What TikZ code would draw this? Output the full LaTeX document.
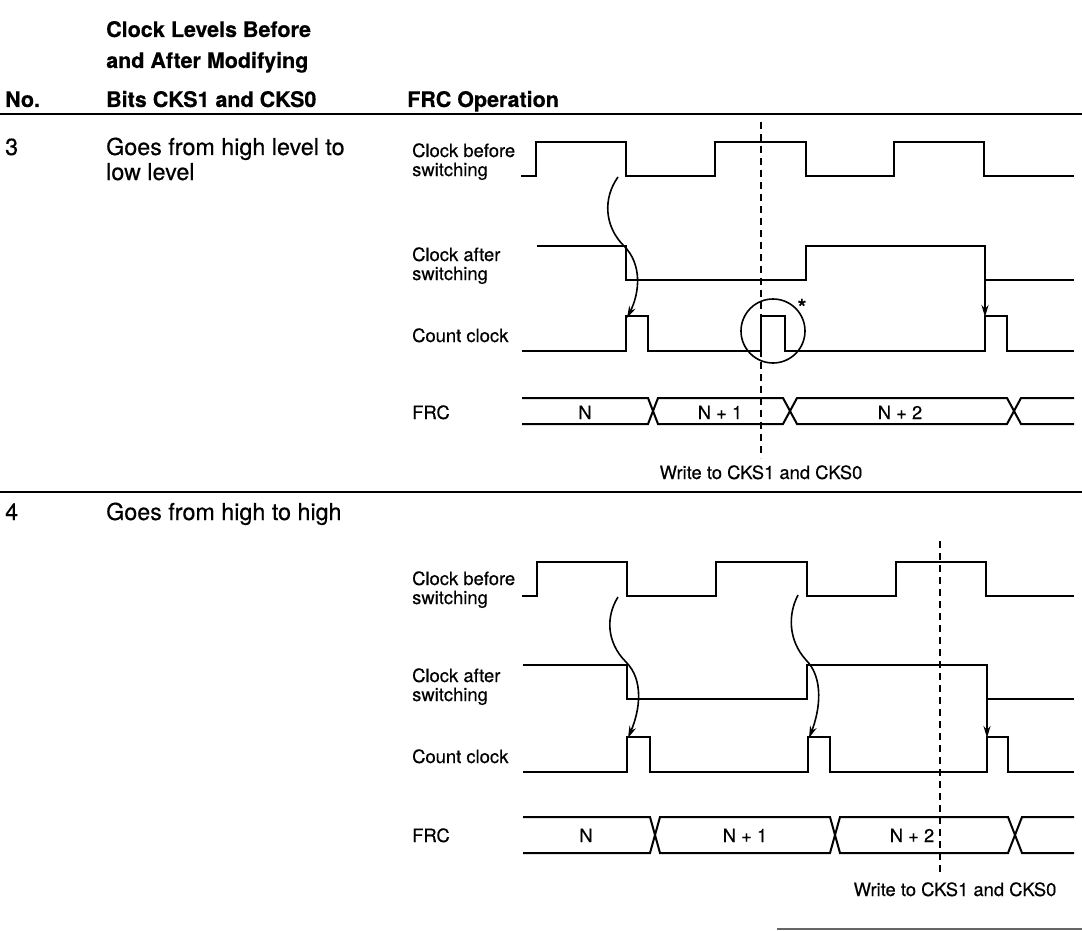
\documentclass[tikz,border=0pt]{standalone}
\usepackage{fontspec}
\setmainfont{TeX Gyre Heros}[FakeBold=0.35]
\usetikzlibrary{arrows.meta}
\newcommand\hdrfont{\fontsize{21.5}{25}\bfseries\selectfont}
\newcommand\rowfont{\fontsize{23.3}{27}\selectfont}
\newcommand\lblfont{\fontsize{18.4}{22}\selectfont}
\begin{document}
\begin{tikzpicture}[x=1pt,y=-1pt,
  hdr/.style={font=\hdrfont, inner sep=0pt, anchor=base west},
  rowtxt/.style={font=\rowfont, inner sep=0pt, anchor=base west},
  lbl/.style={font=\lblfont, inner sep=0pt, anchor=base west},
  val/.style={font=\lblfont, inner sep=0pt, anchor=base},
  rule/.style={line width=2pt},
  wave/.style={line width=2.3pt, line join=miter, line cap=butt},
  bus/.style={line width=2pt},
  curvearrow/.style={line width=1.6pt, -{Stealth[length=12pt,width=7pt]}},
  vertarrow/.style={line width=2pt, -{Stealth[length=12pt,width=7pt]}},
  writeline/.style={line width=2pt, dash pattern=on 7pt off 5pt},
  ring/.style={line width=1.6pt}]
\useasboundingbox (0,0) rectangle (1082,931);
\fill[white] (0,0) rectangle (1082,931);

% ---------- header ----------
\node[hdr] (hno) at (5,107) {No.};
\node[hdr] (h1) at (106,37) {Clock Levels Before};
\node[hdr] (h2) at (106,68) {and After Modifying};
\node[hdr] (h3) at (106,107) {Bits CKS1 and CKS0};
\node[hdr] (h4) at (407,107) {FRC Operation};
\coordinate (r1a) at (0,114); \coordinate (r1b) at (1082,114);
\draw[rule] (r1a) -- (r1b);

% ---------- row 3 ----------
\node[rowtxt] (n3) at (5,155) {3};
\node[rowtxt] (t3a) at (106,155) {Goes from high level to};
\node[rowtxt] (t3b) at (106,180) {low level};

\node[lbl] (a1) at (412,157) {Clock before};
\node[lbl] (a2) at (412,176) {switching};
\node[lbl] (a3) at (412,261) {Clock after};
\node[lbl] (a4) at (412,280) {switching};
\node[lbl] (a5) at (412,342) {Count clock};
\node[lbl] (a6) at (412,419) {FRC};

% clock before switching
\draw[wave] (521,176) -- (536,176) -- (536,142) -- (626,142) -- (626,176)
  -- (715,176) -- (715,142) -- (806,142) -- (806,176) -- (894,176)
  -- (894,142) -- (984,142) -- (984,176) -- (1074,176);
% clock after switching
\draw[wave] (537,246) -- (626,246) -- (626,280) -- (806,280) -- (806,246)
  -- (985,246) -- (985,280) -- (1074,280);
% count clock
\draw[wave] (522,351) -- (626,351) -- (626,316) -- (648,316) -- (648,351)
  -- (761,351) -- (761,316) -- (785,316) -- (785,351)
  -- (985,351) -- (985,316) -- (1007,316) -- (1007,351) -- (1074,351);
% FRC bus
\draw[bus] (522,398) -- (648,398) -- (658,424) -- (783,424) -- (797,398) -- (1007,398) -- (1021,424) -- (1074,424);
\draw[bus] (522,424) -- (648,424) -- (658,398) -- (783,398) -- (797,424) -- (1007,424) -- (1021,398) -- (1074,398);
\node[val] (v1) at (585,419) {N};
\node[val] (v2) at (720,419) {N + 1};
\node[val] (v3) at (900,419) {N + 2};

% arrows
\coordinate (c1s) at (618,177);
\coordinate (c1e) at (627,318);
\draw[curvearrow] (c1s) .. controls (603,198) and (604,226) .. (624,246)
  .. controls (642,264) and (640,292) .. (c1e);
\coordinate (s1s) at (985,279);
\coordinate (s1e) at (985,317);
\draw[vertarrow] (s1s) -- (s1e);

% circle and asterisk
\draw[ring] (773,331) circle[radius=32];
\node[font=\fontsize{22}{22}\bfseries\selectfont, inner sep=0pt] (ast) at (802,307) {*};

% write line
\coordinate (w1t) at (761,122);
\coordinate (w1b) at (761,458);
\draw[writeline] (w1t) -- (w1b);
\node[val] (wt1) at (761,479) {Write to CKS1 and CKS0};

\coordinate (r2a) at (0,492); \coordinate (r2b) at (1082,492);
\draw[rule] (r2a) -- (r2b);

% ---------- row 4 ----------
\node[rowtxt] (n4) at (5,520) {4};
\node[rowtxt] (t4a) at (106,520) {Goes from high to high};

\node[lbl] (b1) at (412,585) {Clock before};
\node[lbl] (b2) at (412,604) {switching};
\node[lbl] (b3) at (412,682) {Clock after};
\node[lbl] (b4) at (412,701) {switching};
\node[lbl] (b5) at (412,763) {Count clock};
\node[lbl] (b6) at (412,842) {FRC};

% clock before switching
\draw[wave] (522,596) -- (537,596) -- (537,562) -- (627,562) -- (627,596)
  -- (716,596) -- (716,562) -- (807,562) -- (807,596) -- (896,596)
  -- (896,562) -- (986,562) -- (986,596) -- (1074,596);
% clock after switching
\draw[wave] (523,665) -- (627,665) -- (627,699) -- (807,699) -- (807,665)
  -- (987,665) -- (987,699) -- (1074,699);
% count clock
\draw[wave] (523,772) -- (627,772) -- (627,737) -- (650,737) -- (650,772)
  -- (808,772) -- (808,737) -- (830,737) -- (830,772)
  -- (987,772) -- (987,737) -- (1008,737) -- (1008,772) -- (1074,772);
% FRC bus
\draw[bus] (523,817) -- (650,817) -- (660,853) -- (830,853) -- (840,817) -- (1008,817) -- (1022,853) -- (1074,853);
\draw[bus] (523,853) -- (650,853) -- (660,817) -- (830,817) -- (840,853) -- (1008,853) -- (1022,817) -- (1074,817);
\node[val] (u1) at (586,842) {N};
\node[val] (u2) at (745,842) {N + 1};
\node[val] (u3) at (912,842) {N + 2};

% arrows
\coordinate (c2s) at (618,597);
\coordinate (c2e) at (628,738);
\draw[curvearrow] (c2s) .. controls (606,616) and (606,642) .. (626,662)
  .. controls (644,680) and (640,710) .. (c2e);
\coordinate (c3s) at (798,595);
\coordinate (c3e) at (809,738);
\draw[curvearrow] (c3s) .. controls (788,614) and (788,640) .. (806,660)
  .. controls (824,678) and (820,710) .. (c3e);
\coordinate (s2s) at (987,698);
\coordinate (s2e) at (987,738);
\draw[vertarrow] (s2s) -- (s2e);

% write line
\coordinate (w2t) at (940,541);
\coordinate (w2b) at (940,876);
\draw[writeline] (w2t) -- (w2b);
\node[val] (wt2) at (955,896) {Write to CKS1 and CKS0};

\coordinate (r3a) at (777,929); \coordinate (r3b) at (1082,929);
\draw[line width=1.5pt, black!60] (r3a) -- (r3b);
\end{tikzpicture}
\end{document}
